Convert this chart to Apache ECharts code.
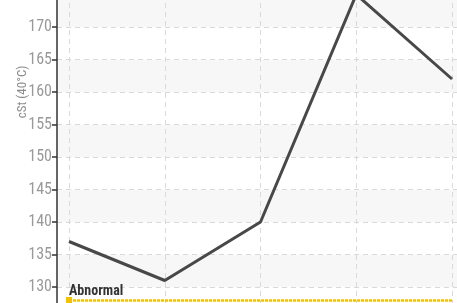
<!DOCTYPE html>
<html>
<head>
<meta charset="utf-8">
<script src="https://cdn.jsdelivr.net/npm/echarts@6/dist/echarts.min.js"></script>
<style>
  html, body { margin:0; padding:0; background:#fff; }
  #chart { width:457px; height:303px; }
</style>
</head>
<body>
<div id="chart"></div>
<script>
// samples (x labels are cut off in the picture)
var samples = ['S1', 'S2', 'S3', 'S4', 'S5'];
var viscosity = [137, 131, 140, 175, 162];
var abnormalLevel = 128;
var yMin = 120, yMax = 200, yStep = 5;

var font = "'Liberation Sans Narrow', 'Roboto Condensed', 'DejaVu Sans Condensed', sans-serif";

var chart = echarts.init(document.getElementById('chart'));
var option = {
    animation: false,
    grid: [
        // background grid, holds the y axis and bands
        { left: 57, right: -5, top: -168, height: 520, outerBoundsMode: 'none', containLabel: false },
        // data grid
        { left: 69, right: 5, top: -168, height: 520, outerBoundsMode: 'none', containLabel: false }
    ],
    xAxis: [
        { gridIndex: 0, type: 'value', min: 0, max: 1, show: false },
        {
            gridIndex: 1, type: 'category', data: samples, boundaryGap: false,
            axisLine: { show: false }, axisTick: { show: false }, axisLabel: { show: false },
            splitLine: { show: true, lineStyle: { color: '#d9d9d9', type: [5, 4], width: 1 } }
        }
    ],
    yAxis: [
        {
            gridIndex: 0, type: 'value', min: yMin, max: yMax, interval: yStep,
            name: 'cSt (40°C)', nameLocation: 'middle', nameGap: 28, nameMoveOverlap: false,
            nameTextStyle: { color: '#8c8c8c', fontSize: 13, fontFamily: font },
            axisLine: { show: true, lineStyle: { color: '#333', width: 1.5 } },
            axisTick: { show: true, length: 5, lineStyle: { color: '#333', width: 1.5 } },
            axisLabel: { color: '#999', fontSize: 16, fontFamily: font, margin: 5 },
            splitLine: { show: true, lineStyle: { color: '#d9d9d9', type: [5, 4], width: 1 } },
            splitArea: { show: true, areaStyle: { color: ['#f7f7f7', '#ffffff'] } }
        },
        { gridIndex: 1, type: 'value', min: yMin, max: yMax, show: false }
    ],
    series: [{
        type: 'line',
        xAxisIndex: 1,
        yAxisIndex: 1,
        data: viscosity,
        showSymbol: false,
        lineStyle: { color: '#484848', width: 3 },
        markLine: {
            silent: true,
            symbol: ['rect', 'none'],
            symbolSize: 6,
            lineStyle: { color: '#f2c200', type: [3, 1], width: 2.5 },
            label: {
                show: true, position: 'insideStartTop', formatter: 'Abnormal',
                color: '#333', fontSize: 14, fontWeight: 'bold', fontFamily: font,
                distance: [0, 2]
            },
            data: [{ yAxis: abnormalLevel }]
        }
    }]
};
chart.setOption(option);
</script>
</body>
</html>
